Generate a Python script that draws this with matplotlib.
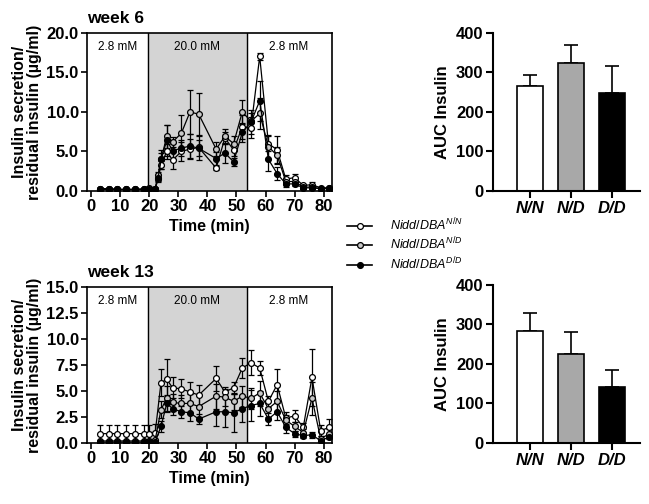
import numpy as np
import matplotlib
matplotlib.use("Agg")
import matplotlib.pyplot as plt
from matplotlib.lines import Line2D

plt.rcParams['font.family'] = ['Liberation Sans', 'DejaVu Sans']
plt.rcParams['mathtext.fontset'] = 'custom'
plt.rcParams['mathtext.it'] = 'Liberation Sans:italic'
plt.rcParams['mathtext.rm'] = 'Liberation Sans'

# perifusion time points (min)
time6 = [3, 6, 9, 12, 15, 18, 20, 22, 23, 24, 26, 28, 31, 34, 37, 43, 46, 49, 52, 55, 58, 61, 64, 67, 70, 73, 76, 79, 82]
time13 = [3, 6, 9, 12, 15, 18, 20, 22, 24, 26, 28, 31, 34, 37, 43, 46, 49, 52, 55, 58, 61, 64, 67, 70, 73, 76, 79, 82]

# week 6 insulin secretion / residual insulin (mean, SEM)
nn6 = [0.3, 0.3, 0.2, 0.2, 0.2, 0.2, 0.3, 0.3, 1.5, 3.3, 5.0, 3.9, 5.0, 5.3, 5.5, 2.9, 6.7, 5.2, 8.1, 8.0, 17.0, 6.0, 5.2, 1.5, 1.7, 0.7, 0.8, 0.4, 0.4]
nd6 = [0.3, 0.3, 0.2, 0.2, 0.2, 0.3, 0.4, 0.3, 2.0, 4.0, 6.9, 6.2, 7.3, 10.0, 9.7, 5.3, 6.9, 6.0, 10.0, 8.8, 9.8, 5.6, 4.5, 1.2, 1.2, 0.5, 0.5, 0.3, 0.3]
dd6 = [0.2, 0.2, 0.2, 0.2, 0.2, 0.2, 0.3, 0.3, 1.7, 4.0, 6.4, 5.1, 5.4, 5.7, 5.4, 4.1, 4.8, 3.7, 7.4, 8.7, 11.4, 4.0, 2.2, 0.9, 0.9, 0.4, 0.4, 0.3, 0.4]
e_nn6 = [0.1, 0.1, 0.1, 0.1, 0.1, 0.1, 0.1, 0.1, 0.3, 0.5, 1.0, 1.1, 1.2, 1.3, 1.6, 0.3, 0.8, 0.8, 1.5, 1.3, 0.5, 1.0, 1.8, 0.5, 0.5, 0.2, 0.3, 0.1, 0.1]
e_nd6 = [0.1, 0.1, 0.1, 0.1, 0.1, 0.1, 0.1, 0.1, 0.4, 0.8, 1.5, 0.6, 2.3, 2.8, 2.7, 0.9, 1.0, 1.0, 1.5, 1.0, 2.0, 1.5, 1.0, 0.4, 0.4, 0.2, 0.2, 0.1, 0.1]
e_dd6 = [0.1, 0.1, 0.1, 0.1, 0.1, 0.1, 0.1, 0.1, 0.4, 1.2, 2.0, 1.0, 1.0, 1.5, 1.0, 0.8, 1.3, 0.5, 1.2, 1.5, 2.5, 1.5, 0.8, 0.4, 0.3, 0.2, 0.2, 0.1, 0.1]

# week 13
nn13 = [0.9, 0.9, 0.9, 0.9, 0.9, 0.9, 0.9, 1.0, 5.8, 6.1, 5.3, 5.2, 4.9, 4.6, 6.2, 4.9, 5.3, 7.2, 7.7, 7.2, 4.0, 5.6, 2.4, 2.6, 1.5, 6.3, 1.2, 1.5]
nd13 = [0.2, 0.2, 0.2, 0.2, 0.2, 0.2, 0.2, 0.3, 3.2, 4.3, 3.9, 3.8, 3.8, 3.5, 4.5, 4.4, 4.0, 4.5, 4.3, 4.8, 3.3, 4.0, 2.2, 1.6, 1.0, 4.3, 0.4, 0.9]
dd13 = [0.1, 0.1, 0.1, 0.1, 0.1, 0.1, 0.1, 0.1, 1.6, 3.8, 3.3, 3.0, 2.9, 2.3, 3.0, 3.0, 2.9, 3.3, 3.6, 3.8, 2.3, 3.0, 1.5, 0.9, 0.7, 0.8, 0.2, 0.6]
e_nn13 = [0.8, 0.8, 0.8, 0.8, 0.8, 0.8, 0.8, 0.8, 1.3, 2.0, 1.0, 0.9, 1.0, 1.0, 1.2, 0.5, 0.6, 1.0, 1.2, 0.7, 0.5, 1.5, 0.6, 0.6, 0.4, 2.7, 0.5, 0.8]
e_nd13 = [0.1, 0.1, 0.1, 0.1, 0.1, 0.1, 0.1, 0.1, 0.8, 1.2, 0.8, 0.8, 0.9, 1.0, 1.2, 0.8, 0.8, 1.0, 1.0, 1.2, 0.8, 1.0, 0.5, 0.4, 0.3, 1.6, 0.3, 0.4]
e_dd13 = [0.1, 0.1, 0.1, 0.1, 0.1, 0.1, 0.1, 0.1, 0.5, 0.8, 0.6, 0.6, 0.8, 0.5, 1.4, 1.5, 1.8, 1.3, 1.5, 1.2, 0.6, 0.8, 0.5, 0.3, 0.2, 0.3, 0.1, 0.2]

# AUC bars
genotypes = ['N/N', 'N/D', 'D/D']
auc6 = [265, 323, 248]
auc6_err = [28, 46, 67]
auc13 = [282, 226, 141]
auc13_err = [47, 55, 44]

series_labels = [r'$Nidd/DBA^{N/N}$', r'$Nidd/DBA^{N/D}$', r'$Nidd/DBA^{D/D}$']
marker_faces = ['white', '#c8c8c8', 'black']
bar_colors = ['white', '#a8a8a8', 'black']

FS = 12

fig = plt.figure(figsize=(6.49, 5.04), dpi=100)

ax_l6 = fig.add_axes([0.134, 0.621, 0.378, 0.314])
ax_l13 = fig.add_axes([0.134, 0.121, 0.378, 0.310])
ax_b6 = fig.add_axes([0.760, 0.621, 0.226, 0.314])
ax_b13 = fig.add_axes([0.760, 0.121, 0.226, 0.314])


def line_panel(ax, t, means, errs, ymax, ystep, title):
    ax.axvspan(19.5, 53.5, color='#d4d4d4', zorder=0)
    ax.axvline(19.5, color='black', lw=1.0, zorder=1)
    ax.axvline(53.5, color='black', lw=1.0, zorder=1)
    for m, e, fc in zip(means, errs, marker_faces):
        ax.errorbar(t, m, yerr=e, fmt='-o', color='black', mfc=fc, mec='black',
                    ms=4.2, mew=0.9, lw=0.9, elinewidth=0.9, capsize=2, capthick=0.9,
                    zorder=3)
    ax.set_xlim(-1.5, 83)
    ax.set_ylim(0, ymax)
    ax.set_xticks(np.arange(0, 81, 10))
    yt = np.arange(0, ymax + 0.01, ystep)
    ax.set_yticks(yt)
    ax.set_yticklabels([f'{v:.1f}' for v in yt])
    for s in ax.spines.values():
        s.set_linewidth(1.2)
    ax.tick_params(direction='out', length=4, width=1.2, labelsize=FS, pad=2)
    for lbl in ax.get_xticklabels() + ax.get_yticklabels():
        lbl.set_fontweight('bold')
    ax.set_xlabel('Time (min)', fontsize=11.5, fontweight='bold', labelpad=3)
    ax.set_ylabel('Insulin secretion/\nresidual insulin (µg/ml)', fontsize=11.5,
                  fontweight='bold', labelpad=3, linespacing=1.0)
    ax.text(9, 0.91, '2.8 mM', transform=ax.get_xaxis_transform(), ha='center', va='center', fontsize=8.5)
    ax.text(36.5, 0.91, '20.0 mM', transform=ax.get_xaxis_transform(), ha='center', va='center', fontsize=8.5)
    ax.text(68, 0.91, '2.8 mM', transform=ax.get_xaxis_transform(), ha='center', va='center', fontsize=8.5)
    ax.set_title(title, loc='left', fontsize=12.5, fontweight='bold', pad=7)


def bar_panel(ax, vals, errs):
    x = np.arange(len(genotypes))
    ax.bar(x, vals, width=0.64, color=bar_colors, edgecolor='black', linewidth=1.2, zorder=2)
    ax.errorbar(x, vals, yerr=[np.zeros(len(vals)), errs], fmt='none', ecolor='black',
                elinewidth=1.2, capsize=5, capthick=1.2, zorder=1)
    ax.set_xlim(-0.9, 2.68)
    ax.set_ylim(0, 400)
    ax.set_yticks([0, 100, 200, 300, 400])
    ax.set_xticks(x)
    ax.set_xticklabels(genotypes, fontstyle='italic')
    ax.spines['top'].set_visible(False)
    ax.spines['right'].set_visible(False)
    for s in ax.spines.values():
        s.set_linewidth(1.5)
    ax.tick_params(direction='out', length=5, width=1.5, labelsize=FS, pad=2)
    for lbl in ax.get_xticklabels() + ax.get_yticklabels():
        lbl.set_fontweight('bold')
    ax.set_ylabel('AUC Insulin', fontsize=12, fontweight='bold', labelpad=4)


line_panel(ax_l6, time6, [nn6, nd6, dd6], [e_nn6, e_nd6, e_dd6], 20, 5, 'week 6')
line_panel(ax_l13, time13, [nn13, nd13, dd13], [e_nn13, e_nd13, e_dd13], 15, 2.5, 'week 13')
bar_panel(ax_b6, auc6, auc6_err)
bar_panel(ax_b13, auc13, auc13_err)

handles = [Line2D([], [], color='black', lw=1.2, marker='o', ms=4.2, mfc=fc, mec='black', mew=0.9)
           for fc in marker_faces]
fig.legend(handles=handles, labels=series_labels, loc='center left',
           bbox_to_anchor=(0.518, 0.515), frameon=False, fontsize=9,
           handlelength=2.0, labelspacing=0.25, handletextpad=1.4)

fig.savefig('out.png', dpi=100)
